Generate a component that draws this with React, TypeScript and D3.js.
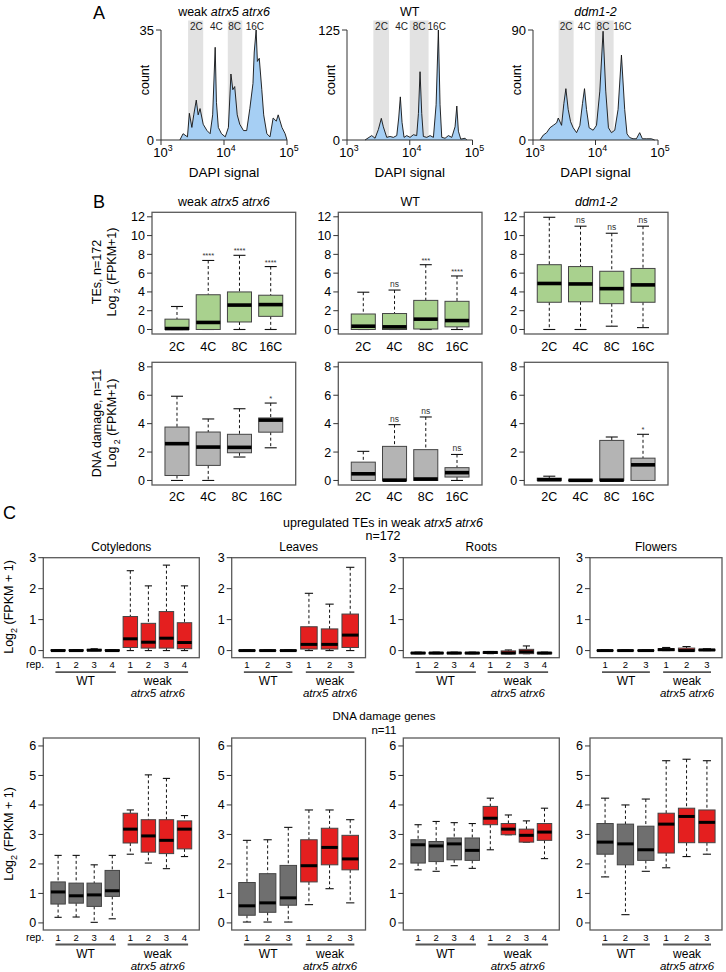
import React from "react";
import * as d3 from "d3";

const FONT = "'Liberation Sans', Arial, Helvetica, sans-serif";

// ================= Panel A: DAPI histograms (log10 DAPI signal, count) =================
const weakLog = [3.30,3.35,3.42,3.45,3.49,3.52,3.56,3.59,3.62,3.67,3.73,3.78,3.82,3.86,3.88,3.91,3.96,4.02,4.07,4.11,4.14,4.17,4.21,4.25,4.31,4.36,4.41,4.46,4.48,4.51,4.53,4.56,4.60,4.63,4.68,4.73,4.78,4.83,4.86,4.92,4.97,5.0];
const weakCount = [0,2,1,8.5,4,8,12.7,8,10,5,3,2,8,29.5,12,4,2,1,4,21,16,17,8,5,3,3,10,18,28,35,25,26,16,8,2,1,7,6,8,4,2,0];
const wtLog = [3.287,3.394,3.447,3.50,3.547,3.579,3.633,3.686,3.739,3.793,3.824,3.85,3.877,3.909,3.952,4.005,4.058,4.111,4.138,4.164,4.191,4.217,4.271,4.324,4.377,4.42,4.456,4.483,4.51,4.563,4.616,4.67,4.722,4.75,4.775,4.813,4.882,4.909];
const wtCount = [0,5,2,12,24.6,15,3,4,3,5,25,49,20,3,5,3,6,5,30,77.6,30,4,3,5,3,40,125,40,3,2,5,3,15,38.6,10,1,2,0];
const ddmLog = [3.112,3.164,3.218,3.271,3.324,3.378,3.404,3.457,3.494,3.526,3.563,3.601,3.643,3.697,3.75,3.792,3.824,3.856,3.898,3.962,4.016,4.069,4.121,4.164,4.207,4.255,4.308,4.361,4.415,4.467,4.504,4.547,4.60,4.654,4.707,4.75,4.813,4.893,4.946];
const ddmCount = [0,4,6,10,12,14,18,12,30,42,25,15,10,6,12,30,42,25,10,8,12,40,89,40,10,6,8,25,69.5,25,5,2,1,1,6,1,1,1,0];
const histYMax = [35, 125, 90];
const gate2C = [[3.43, 3.67], [3.42, 3.67], [3.41, 3.65]];
const gate8C = [[4.06, 4.29], [4.0, 4.3], [3.99, 4.29]];
const ploidyLabels = ["2C", "4C", "8C", "16C"];
const ploidyLabelPos = [[3.56, 3.88, 4.17, 4.49], [3.55, 3.87, 4.15, 4.43], [3.53, 3.82, 4.12, 4.43]];

// ================= Panel B: boxplots [lower whisker, Q1, median, Q3, upper whisker] =================
const bCats = ["2C", "4C", "8C", "16C"];
const bTeWeak = [[0,0,0.1,1.1,2.45],[0,0,0.75,3.7,7.35],[0,0.8,2.6,4.0,7.9],[0,1.4,2.65,3.65,6.7]];
const bTeWT = [[0,0,0.35,1.65,3.97],[0,0,0.28,1.7,4.2],[0,0.05,1.1,3.1,6.9],[0,0.28,0.95,3.0,5.7]];
const bTeDdm = [[0,2.9,4.9,6.9,11.95],[0,2.95,4.85,6.7,11.0],[0.35,2.75,4.35,6.2,10.25],[0.2,2.9,4.75,6.5,11.0]];
const bDnaWeak = [[0,0.35,2.59,3.76,5.93],[0,1.06,2.35,3.41,4.33],[1.65,1.95,2.33,3.25,5.05],[2.3,3.4,4.25,4.4,5.45]];
const bDnaWT = [[0,0,0.47,1.29,2.05],[0,0,0.02,2.4,3.93],[0,0,0.1,2.17,4.47],[0,0.24,0.55,0.9,1.83]];
const bDnaDdm = [[0,0,0.05,0.16,0.3],[0,0,0.01,0.03,0.05],[0,0,0.02,2.82,3.06],[0,0,1.1,1.57,3.25]];
const bTeWeakSig = ["", "****", "****", "****"];
const bTeWTSig = ["", "ns", "***", "****"];
const bTeDdmSig = ["", "ns", "ns", "ns"];
const bDnaWeakSig = ["", "", "", "*"];
const bDnaWTSig = ["", "ns", "ns", "ns"];
const bDnaDdmSig = ["", "", "", "*"];
const bTeTicks = [0, 2, 4, 6, 8, 10, 12];
const bDnaTicks = [0, 2, 4, 6, 8];

// ================= Panel C: tissue boxplots =================
const cTissues = ["Cotyledons", "Leaves", "Roots", "Flowers"];
const cRep4 = ["1","2","3","4","1","2","3","4"];
const cRep3 = ["1","2","3","1","2","3"];
const cTeCot = [[0,0,0,0.02,0.03],[0,0,0,0.02,0.03],[0,0,0.01,0.04,0.06],[0,0,0,0.02,0.03],
  [0,0.1,0.38,1.1,2.58],[0,0.08,0.27,0.88,2.09],[0,0.08,0.4,1.26,2.76],[0,0.06,0.26,0.9,2.09]];
const cTeLea = [[0,0,0,0.01,0.02],[0,0,0,0.01,0.02],[0,0,0,0.01,0.02],
  [0,0.05,0.2,0.77,1.85],[0,0.05,0.2,0.7,1.5],[0,0.1,0.5,1.18,2.69]];
const cTeRoo = [[-0.1,-0.1,-0.08,-0.06,-0.05],[-0.1,-0.1,-0.08,-0.06,-0.05],[-0.1,-0.1,-0.08,-0.06,-0.05],[-0.1,-0.1,-0.08,-0.06,-0.05],
  [-0.1,-0.09,-0.06,-0.04,-0.03],[-0.1,-0.1,-0.08,-0.01,0.02],[-0.1,-0.1,-0.04,0.04,0.15],[-0.1,-0.1,-0.08,-0.06,-0.05]];
const cTeFlo = [[0,0,0,0.01,0.02],[0,0,0,0.01,0.02],[0,0,0,0.01,0.02],
  [0,0,0.03,0.06,0.1],[-0.02,-0.01,0.0,0.08,0.13],[0,0,0.02,0.04,0.06]];
const cDnaCot = [[0.19,0.64,1.05,1.39,2.29],[0.2,0.67,0.92,1.35,2.29],[0.02,0.56,0.95,1.35,1.97],[0.14,0.9,1.09,1.78,2.29],
  [2.33,2.71,3.18,3.72,3.83],[2.03,2.4,2.95,3.5,5.02],[1.84,2.35,2.8,3.5,4.9],[2.25,2.51,3.18,3.46,3.64]];
const cDnaLea = [[0.03,0.26,0.58,1.37,2.8],[0.03,0.36,0.68,1.67,2.82],[0.03,0.6,0.85,1.95,3.24],
  [0.62,1.39,1.94,2.82,3.83],[1.16,1.97,2.56,3.21,3.83],[0.68,1.8,2.17,2.97,3.5]];
const cDnaRoo = [[1.8,2.03,2.65,2.82,3.33],[1.75,2.08,2.61,2.76,3.44],[1.94,2.14,2.68,2.88,3.4],[1.85,2.12,2.46,2.88,3.37],
  [2.48,3.33,3.55,3.95,4.23],[2.99,2.99,3.18,3.37,3.66],[2.74,2.74,2.97,3.18,3.46],[2.18,2.8,3.08,3.37,3.89]];
const cDnaFlo = [[1.56,2.33,2.74,3.37,4.23],[0.28,1.97,2.68,3.35,4.0],[1.75,2.12,2.48,3.28,4.2],
  [1.87,2.37,3.35,3.72,5.5],[2.25,2.72,3.61,3.89,5.55],[2.33,2.72,3.41,3.83,5.5]];
const cTeTicks = [0, 1, 2, 3];
const cDnaTicks = [0, 1, 2, 3, 4, 5, 6];

const GREEN = "#a9d18e";
const BGRAY = "#b4b4b4";
const CGRAY = "#6f6f6f";
const RED = "#e41f1f";
const BLUE = "#a6cff4";
const FRAME = "#5a5a5a";

function Sup({ base, exp, x, y, size }: { base: string; exp: string; x: number; y: number; size: number }) {
  return (
    <text x={x} y={y} fontSize={size} textAnchor="middle">
      {base}
      <tspan dy={-6} fontSize={size * 0.68}>{exp}</tspan>
    </text>
  );
}

function Histogram({ x0, x1, idx, logs, counts, title }: any) {
  const yTop = 30, yBot = 140;
  const xs = d3.scaleLog().domain([1e3, 1e5]).range([x0, x1]);
  const ys = d3.scaleLinear().domain([0, histYMax[idx]]).range([yBot, yTop]);
  const pts: [number, number][] = logs.map((l: number, i: number) => [Math.pow(10, l), counts[i]]);
  const area = d3.area<[number, number]>().x((d) => xs(d[0])).y0(yBot).y1((d) => ys(d[1]));
  const line = d3.line<[number, number]>().x((d) => xs(d[0])).y((d) => ys(d[1]));
  const g = (l: number) => xs(Math.pow(10, l));
  const cx = (x0 + x1) / 2;
  return (
    <g>
      {[gate2C[idx], gate8C[idx]].map((b, i) => (
        <rect key={i} x={g(b[0])} y={20.5} width={g(b[1]) - g(b[0])} height={yBot - 20.5} fill="#e2e2e2" />
      ))}
      {ploidyLabels.map((t, i) => (
        <text key={t} x={g(ploidyLabelPos[idx][i])} y={29.5} fontSize={10} textAnchor="middle" fill="#222">{t}</text>
      ))}
      <path d={area(pts) || ""} fill={BLUE} />
      <path d={line(pts) || ""} fill="none" stroke="#111" strokeWidth={0.9} strokeLinejoin="round" />
      <line x1={x0} x2={x0} y1={yTop} y2={yBot} stroke="#333" />
      <line x1={x0} x2={x1} y1={yBot} y2={yBot} stroke="#333" />
      {[0, histYMax[idx]].map((v) => (
        <g key={v}>
          <line x1={x0 - 5} x2={x0} y1={ys(v)} y2={ys(v)} stroke="#333" />
          <text x={x0 - 7} y={ys(v) + 4.5} fontSize={13} textAnchor="end">{v}</text>
        </g>
      ))}
      {[1e3, 1e4, 1e5].map((v, i) => (
        <g key={v}>
          <line x1={xs(v)} x2={xs(v)} y1={yBot} y2={yBot + 5} stroke="#333" />
          <Sup base="10" exp={String(3 + i)} x={xs(v) + 2} y={157} size={13} />
        </g>
      ))}
      <text x={cx} y={177} fontSize={13.5} textAnchor="middle">DAPI signal</text>
      <text transform={`translate(${x0 - 12},80) rotate(-90)`} fontSize={12.5} textAnchor="middle">count</text>
      <text x={cx} y={16} fontSize={12.5} textAnchor="middle">{title}</text>
    </g>
  );
}

function BoxPlot({ left, top, width, height, yDomain, yTicks, boxes, fills, xDomain, boxW, medW, tickFont, sig, sigFont }: any) {
  const xs = d3.scaleLinear().domain(xDomain).range([left, left + width]);
  const ys = d3.scaleLinear().domain(yDomain).range([top + height, top]);
  const bw = xs(1 + boxW / 2) - xs(1 - boxW / 2);
  return (
    <g>
      {boxes.map((b: number[], i: number) => {
        const cx = xs(i + 1);
        const [lo, q1, md, q3, hi] = b;
        return (
          <g key={i}>
            <line x1={cx} x2={cx} y1={ys(hi)} y2={ys(q3)} stroke="#111" strokeDasharray="3,2.5" />
            <line x1={cx} x2={cx} y1={ys(q1)} y2={ys(lo)} stroke="#111" strokeDasharray="3,2.5" />
            <line x1={cx - bw / 4} x2={cx + bw / 4} y1={ys(hi)} y2={ys(hi)} stroke="#111" strokeWidth={1.1} />
            <line x1={cx - bw / 4} x2={cx + bw / 4} y1={ys(lo)} y2={ys(lo)} stroke="#111" strokeWidth={1.1} />
            <rect x={cx - bw / 2} y={ys(q3)} width={bw} height={Math.max(0.5, ys(q1) - ys(q3))} fill={fills[i]} stroke="#444" strokeWidth={1} />
            <line x1={cx - bw / 2} x2={cx + bw / 2} y1={ys(md)} y2={ys(md)} stroke="#000" strokeWidth={medW} />
            {sig && sig[i] ? (
              <text x={cx} y={ys(hi) - (sig[i] === "ns" ? 3 : 2)} fontSize={sig[i] === "ns" ? sigFont : sigFont - 1} textAnchor="middle" fill="#333">{sig[i]}</text>
            ) : null}
          </g>
        );
      })}
      <rect x={left} y={top} width={width} height={height} fill="none" stroke={FRAME} strokeWidth={1.3} />
      {yTicks.map((t: number) => (
        <g key={t}>
          <line x1={left - 5} x2={left} y1={ys(t)} y2={ys(t)} stroke="#333" />
          <text x={left - 7} y={ys(t) + tickFont * 0.36} fontSize={tickFont} textAnchor="end">{t}</text>
        </g>
      ))}
    </g>
  );
}

function Log2Label({ x, y, pre, size }: { x: number; y: number; pre: string; size: number }) {
  return (
    <text transform={`translate(${x},${y}) rotate(-90)`} fontSize={size} textAnchor="middle">
      Log<tspan dy={4} fontSize={size * 0.7}>{pre}2</tspan>
      <tspan dy={-4}>{" (FPKM+1)"}</tspan>
    </text>
  );
}

function CPlot({ left, top, width, height, yDomain, yTicks, boxes, reps, nWT, showRep, title }: any) {
  const n = boxes.length;
  const xDomain = n === 8 ? [0.18, 8.82] : [0.26, 6.74];
  const xs = d3.scaleLinear().domain(xDomain).range([left, left + width]);
  const fills = boxes.map((_: any, i: number) => (i < nWT ? CGRAY : RED));
  const bot = top + height;
  const wtIdx = d3.range(0, nWT);
  const mutIdx = d3.range(nWT, n);
  const groupLine = (idx: number[]) => [xs(idx[0] + 1 - 0.15), xs(idx[idx.length - 1] + 1 + 0.2)];
  const wl = groupLine(wtIdx), ml = groupLine(mutIdx);
  return (
    <g>
      {title ? <text x={left + width / 2} y={top - 7} fontSize={12} textAnchor="middle">{title}</text> : null}
      <BoxPlot left={left} top={top} width={width} height={height} yDomain={yDomain} yTicks={yTicks}
        boxes={boxes} fills={fills} xDomain={xDomain} boxW={0.8} medW={3} tickFont={12.5} />
      {reps.map((r: string, i: number) => (
        <text key={i} x={xs(i + 1)} y={bot + 10.5} fontSize={9.5} textAnchor="middle">{r}</text>
      ))}
      {showRep ? <text x={35} y={bot + 10.5} fontSize={10.5} textAnchor="middle">rep.</text> : null}
      <line x1={wl[0]} x2={wl[1]} y1={bot + 14.5} y2={bot + 14.5} stroke="#555" strokeWidth={1.8} />
      <line x1={ml[0]} x2={ml[1]} y1={bot + 14.5} y2={bot + 14.5} stroke="#555" strokeWidth={1.8} />
      <text x={(wl[0] + wl[1]) / 2} y={bot + 27.5} fontSize={12} textAnchor="middle">WT</text>
      <text x={(ml[0] + ml[1]) / 2} y={bot + 27.5} fontSize={12} textAnchor="middle">weak</text>
      <text x={(ml[0] + ml[1]) / 2} y={bot + 39.5} fontSize={11.5} textAnchor="middle" fontStyle="italic">atrx5 atrx6</text>
    </g>
  );
}

export default function App() {
  const histX = [[161, 287], [347, 472.5], [533, 658]];
  const bLeft = [152, 338.3, 524.3];
  const bW = 143.7;
  const bTeRows = [bTeWeak, bTeWT, bTeDdm];
  const bTeSigs = [bTeWeakSig, bTeWTSig, bTeDdmSig];
  const bDnaRows = [bDnaWeak, bDnaWT, bDnaDdm];
  const bDnaSigs = [bDnaWeakSig, bDnaWTSig, bDnaDdmSig];
  const bTitles = [
    <>weak <tspan fontStyle="italic">atrx5 atrx6</tspan></>,
    <>WT</>,
    <tspan fontStyle="italic">ddm1-2</tspan>,
  ];
  const cLeft = [43.3, 231.7, 403.3, 590];
  const cW = [156, 133.8, 156, 132];
  const cTe = [cTeCot, cTeLea, cTeRoo, cTeFlo];
  const cDna = [cDnaCot, cDnaLea, cDnaRoo, cDnaFlo];
  const cReps = [cRep4, cRep3, cRep4, cRep3];
  const cNWT = [4, 3, 4, 3];

  return (
    <svg width={726} height={972} style={{ position: "absolute", left: 0, top: 0, background: "#fff" }} fontFamily={FONT}>
      <rect width={726} height={972} fill="#fff" />
      {/* Panel A */}
      <text x={93} y={19} fontSize={18}>A</text>
      <Histogram x0={histX[0][0]} x1={histX[0][1]} idx={0} logs={weakLog} counts={weakCount} title={bTitles[0]} />
      <Histogram x0={histX[1][0]} x1={histX[1][1]} idx={1} logs={wtLog} counts={wtCount} title={bTitles[1]} />
      <Histogram x0={histX[2][0]} x1={histX[2][1]} idx={2} logs={ddmLog} counts={ddmCount} title={bTitles[2]} />

      {/* Panel B */}
      <text x={93} y={208} fontSize={18}>B</text>
      {bLeft.map((l, i) => (
        <g key={i}>
          <text x={l + bW / 2} y={205.5} fontSize={12.5} textAnchor="middle">{bTitles[i]}</text>
          <BoxPlot left={l} top={212.3} width={bW} height={121.7} yDomain={[-0.48, 12.48]} yTicks={bTeTicks}
            boxes={bTeRows[i]} fills={bTeRows[i].map(() => GREEN)} xDomain={[0.2, 4.8]} boxW={0.77} medW={3.6}
            tickFont={12.5} sig={bTeSigs[i]} sigFont={8.5} />
          <BoxPlot left={l} top={362.3} width={bW} height={122.7} yDomain={[-0.32, 8.32]} yTicks={bDnaTicks}
            boxes={bDnaRows[i]} fills={bDnaRows[i].map(() => BGRAY)} xDomain={[0.2, 4.8]} boxW={0.77} medW={3.6}
            tickFont={12.5} sig={bDnaSigs[i]} sigFont={8.5} />
          {bCats.map((c, j) => {
            const xs = d3.scaleLinear().domain([0.2, 4.8]).range([l, l + bW]);
            return (
              <g key={c}>
                <text x={xs(j + 1)} y={350.5} fontSize={12.5} textAnchor="middle">{c}</text>
                <text x={xs(j + 1)} y={501} fontSize={12.5} textAnchor="middle">{c}</text>
              </g>
            );
          })}
        </g>
      ))}
      <text transform="translate(101,272) rotate(-90)" fontSize={12.5} textAnchor="middle">TEs, n=172</text>
      <Log2Label x={116} y={272} pre=" " size={12.5} />
      <text transform="translate(101,423) rotate(-90)" fontSize={12.5} textAnchor="middle">DNA damage, n=11</text>
      <Log2Label x={116} y={423} pre=" " size={12.5} />

      {/* Panel C */}
      <text x={3} y={519} fontSize={18}>C</text>
      <text x={383} y={527} fontSize={12.5} textAnchor="middle">
        upregulated TEs in weak <tspan fontStyle="italic">atrx5 atrx6</tspan>
      </text>
      <text x={383} y={539.5} fontSize={12.5} textAnchor="middle">n=172</text>
      <text x={384} y={719.5} fontSize={11.5} textAnchor="middle">DNA damage genes</text>
      <text x={384} y={734} fontSize={11.5} textAnchor="middle">n=11</text>
      {cLeft.map((l, i) => (
        <g key={i}>
          <CPlot left={l} top={557.7} width={cW[i]} height={100} yDomain={[-0.23, 3]} yTicks={cTeTicks}
            boxes={cTe[i]} reps={cReps[i]} nWT={cNWT[i]} showRep={i === 0} title={cTissues[i]} />
          <CPlot left={l} top={738} width={cW[i]} height={192} yDomain={[-0.24, 6.27]} yTicks={cDnaTicks}
            boxes={cDna[i]} reps={cReps[i]} nWT={cNWT[i]} showRep={i === 0} />
        </g>
      ))}
      <text transform="translate(13,607) rotate(-90)" fontSize={12.5} textAnchor="middle">
        Log<tspan dy={4} fontSize={9}>2</tspan><tspan dy={-4}>{" (FPKM + 1)"}</tspan>
      </text>
      <text transform="translate(13,834) rotate(-90)" fontSize={12.5} textAnchor="middle">
        Log<tspan dy={4} fontSize={9}>2</tspan><tspan dy={-4}>{" (FPKM + 1)"}</tspan>
      </text>
    </svg>
  );
}
